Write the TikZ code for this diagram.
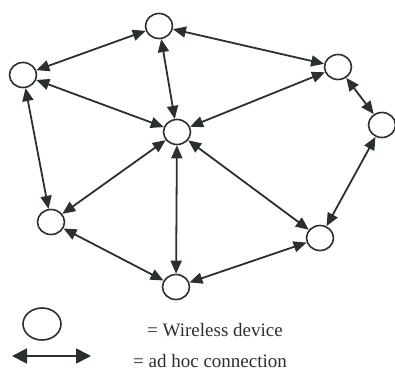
\documentclass[tikz,border=0pt]{standalone}
\usepackage{fontspec}
\setmainfont{Liberation Serif}
\usetikzlibrary{arrows.meta,shapes.geometric}
\definecolor{ink}{HTML}{2A302D}
\begin{document}
\begin{tikzpicture}[x=1pt,y=-1pt,
  dev/.style={draw=ink,line width=1.6pt,ellipse,minimum width=27pt,minimum height=25pt,inner sep=0pt},
  link/.style={draw=ink,line width=1.8pt,{Triangle[length=13pt,width=11pt]}-{Triangle[length=13pt,width=11pt]}},
  lbl/.style={text=ink,font=\fontsize{19}{21}\selectfont,anchor=base west,inner sep=0pt}]
\useasboundingbox (0,0) rectangle (395,372);
\node[dev] (T) at (159,26) {};
\node[dev] (L) at (23,75) {};
\node[dev] (C) at (177,132) {};
\node[dev] (RU) at (338,67) {};
\node[dev] (FR) at (382,125) {};
\node[dev] (LL) at (51,222) {};
\node[dev] (B) at (176,287) {};
\node[dev] (LR) at (320,238) {};
\draw[link] (T) -- (L);
\draw[link] (T) -- (C);
\draw[link] (T) -- (RU);
\draw[link] (L) -- (C);
\draw[link] (L) -- (LL);
\draw[link] (C) -- (RU);
\draw[link] (C) -- (LL);
\draw[link] (C) -- (B);
\draw[link] (C) -- (LR);
\draw[link] (RU) -- (FR);
\draw[link] (FR) -- (LR);
\draw[link] (LL) -- (B);
\draw[link] (B) -- (LR);
\node[dev,minimum width=38pt,minimum height=32pt] (K) at (42,324) {};
\coordinate (A1) at (12,356);
\coordinate (A2) at (91,356);
\draw[link,{Triangle[length=15pt,width=15pt]}-{Triangle[length=15pt,width=15pt]}] (A1) -- (A2);
\node[lbl] (t1) at (147,336) {= Wireless device};
\node[lbl] (t2) at (133,367) {= ad hoc connection};
\end{tikzpicture}
\end{document}
